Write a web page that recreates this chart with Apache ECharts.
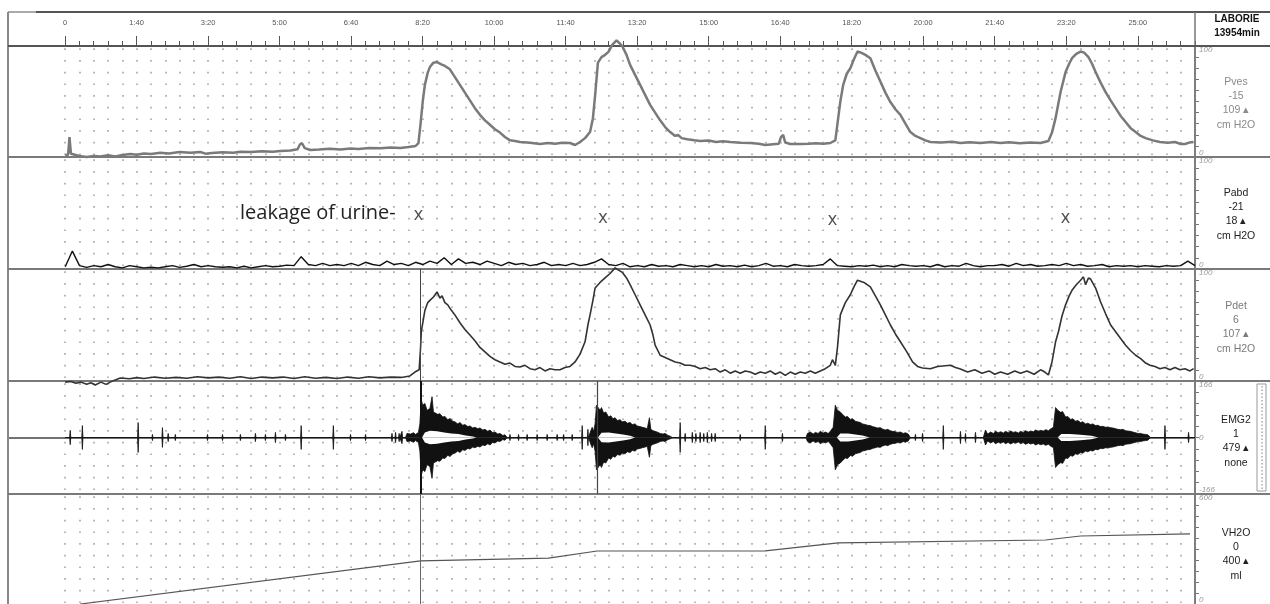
<!DOCTYPE html>
<html><head><meta charset="utf-8">
<script src="https://cdn.jsdelivr.net/npm/echarts@6/dist/echarts.min.js"></script>
<style>html,body{margin:0;padding:0;background:#fff}#c{width:1270px;height:604px}</style>
</head><body><div id="c"></div>
<script>
// ---------- DATA ----------
const timeMax = 1580;            // seconds
const majorTickStep = 100;       // seconds (label every 1:40)
const minorTickStep = 20;

const channelNames = ['Pves', 'Pabd', 'Pdet', 'EMG2', 'VH2O'];
const channelValue1 = ['-15', '-21', '6', '1', '0'];
const channelValue2 = ['109', '18', '107', '479', '400'];
const channelUnits = ['cm H2O', 'cm H2O', 'cm H2O', 'none', 'ml'];
const channelMin = [0, 0, 0, -166, 0];
const channelMax = [100, 100, 100, 166, 600];

// Pves [time s, cm H2O]
const pves = [[0,1.8],[4,2],[6,18],[8,3],[10,1.5],[20,1],[30,0],[40,1],[49,0.5],[60,1.5],[70,0.5],[80,1.8],[91,2.7],[100,2],[110,3.2],[120,2.8],[133,3.8],[145,3.2],[160,4.5],[175,3.8],[189,4.5],[196,3],[205,3.5],[220,4.2],[235,3.8],[245,4.8],[260,4.5],[275,5.2],[290,4.8],[301,5.5],[315,5.8],[325,7],[328,11],[331,12.6],[335,8],[343,6.3],[355,6.8],[370,7.5],[385,6.8],[399,7.6],[410,7.2],[425,8.2],[441,7.8],[455,8.5],[469,8.1],[480,9],[490,9.9],[494,12.6],[497,30],[500,50],[503,65],[507,76],[510,81],[515,85],[520,85.5],[526,83.5],[531,82],[538,79],[545,72],[552,65],[559,58],[566,51],[573,44],[580,38],[587,33],[594,29],[601,25],[608,22],[615,18],[622,15],[629,14.5],[636,13.5],[650,12.8],[664,11.7],[675,12.6],[685,12],[695,12.8],[706,12.6],[713,10.8],[720,13.5],[727,17],[734,22.5],[738,35],[741,55],[745,85],[750,90],[755,92],[760,95],[765,101],[771,105],[776,102],[779,100],[785,92],[790,83],[797,74],[804,65],[811,56],[818,47],[825,40],[832,33],[839,27],[846,22.5],[853,19],[857,20],[862,17],[870,16],[880,15],[888,14.4],[900,14.8],[910,13.5],[920,14.2],[930,13.5],[945,12.8],[958,12.6],[970,12],[979,10.8],[990,11.5],[998,12],[1001,18],[1004,20],[1007,13],[1014,11.7],[1028,11.7],[1040,12],[1050,12.3],[1060,12],[1070,12.6],[1077,15],[1081,35],[1084,50],[1088,65],[1093,75],[1098,80],[1103,88],[1108,95],[1113,94],[1119,92],[1126,89],[1133,78],[1140,68],[1147,58],[1154,49.5],[1161,43],[1168,38],[1175,30],[1182,22.5],[1189,19],[1196,17],[1203,15],[1210,13.5],[1225,13],[1240,13.8],[1252,12.6],[1265,13.2],[1280,12.6],[1295,13.5],[1308,12.6],[1320,13.2],[1335,12.4],[1350,13],[1364,12.6],[1375,14.4],[1380,22],[1385,35],[1392,58.5],[1399,76.5],[1404,84],[1408,89],[1414,93],[1420,95],[1425,94],[1431,90],[1436,84],[1441,76.5],[1448,67],[1455,58.5],[1462,51],[1469,44],[1476,37],[1483,31.5],[1490,26],[1497,22.5],[1504,19],[1511,17],[1521,15],[1531,13.5],[1542,12.8],[1552,13.5],[1560,11.7],[1566,11.7],[1572,13],[1578,13.5]];

// Pabd sampled every 10 s from 0 s
const pabdStep = 10;
const pabdValues = [2,16,3,1.5,3,2,4,2,1,3, 2,1,1.5,1,2,3,1.5,2.5,4,2, 3,2,1.5,2,1,2.5,1,2,3,2, 2.5,3.5,3,11,4,3,5,3,4,3,
 5,3,6,4,3,7,4,5,3,6, 4,7,5,10,4,9,5,6,4,7, 5,3,6,4,5,3,4,6,3,4, 3,5,3,4,6,9,4,3,5,2, 3,2,4,2.5,3,2,4,3,2,3,
 2,4,2.5,3,2,3.5,2,3,5,2.5, 3,2,4,3,2.5,3,4,9,3,2.5, 2,3,2.5,3.5,2,3,2,4,3,2.5, 3,2,4,2,3,2.5,5,3,2,3,
 3,4,2.5,5,3,4,2.5,3,4,3, 5,3,4,2.5,3,4,2,3,2.5,3, 2,3,2.5,2,3,2.5,3,7,3];

// Pdet [time s, cm H2O]
const pdet = [[0,-1],[8,-0.5],[15,-2],[22,-1],[30,-3],[36,-1.5],[42,-3.5],[50,-1],[57,-3],[63,-1],[70,1],[77,2.7],[90,2],[100,3],[110,2.2],[125,3.5],[140,2.5],[155,3.2],[170,2.5],[185,3.8],[200,2.8],[215,3.5],[230,2.5],[245,3.8],[260,2.2],[275,3.5],[290,2.8],[305,3.5],[320,2.2],[335,3.8],[350,2.5],[365,3.2],[380,2.2],[395,3.5],[410,2.5],[425,3.8],[440,2.8],[455,3.5],[470,3.2],[482,4.5],[489,8],[495,10],[497,30],[498,44],[503,63],[507,70],[510,72],[515,75],[520,79.5],[524,74],[527,76],[531,70],[535,68],[539,64],[545,59],[552,52],[559,46],[566,41],[573,36],[580,30],[587,26],[594,22],[601,19],[608,17],[615,15],[622,16],[629,13],[636,12.5],[643,14],[650,11],[657,10],[664,12],[671,9],[678,11],[685,10],[692,10],[699,12],[706,13],[713,17],[720,24],[727,35],[731,50],[734,59],[738,72],[741,83],[748,88],[755,92],[762,96],[769,101],[774,99],[779,97],[785,92],[790,86],[797,77],[804,68],[811,59],[818,50],[822,41],[825,32],[832,23],[839,21],[846,19],[853,17],[860,16],[867,14],[874,14],[881,13],[888,11],[895,12],[902,10],[909,11],[916,8],[923,10],[930,7],[937,9],[944,7],[951,9],[958,8],[965,6],[972,8],[979,7],[986,9],[993,6],[1000,8],[1007,5],[1014,8],[1021,6],[1028,8],[1035,7],[1042,9],[1049,7],[1056,9],[1063,11],[1070,14],[1073,19],[1077,14],[1080,30],[1084,59],[1091,70],[1098,77],[1103,84],[1108,90],[1117,88],[1126,84],[1133,76],[1140,68],[1147,59],[1154,50],[1161,42],[1168,35],[1177,26],[1185,17],[1192,13],[1199,11.6],[1210,11],[1220,13],[1238,14],[1245,12],[1252,10.7],[1262,8],[1272,10],[1282,7],[1292,9],[1300,6],[1308,8],[1318,6],[1328,9],[1336,7],[1345,9],[1355,6],[1364,10],[1370,8],[1375,5.4],[1380,17],[1385,35],[1389,44],[1394,58],[1399,68],[1404,76],[1408,81],[1414,86],[1420,90],[1424,93],[1427,86],[1431,92],[1434,91],[1441,83],[1448,70.5],[1455,60],[1462,50],[1469,44],[1476,38],[1483,32],[1490,27],[1497,23],[1504,20],[1511,16],[1517,14],[1524,13],[1531,11],[1538,12],[1545,10],[1552,12],[1559,10],[1566,11],[1573,9],[1578,11]];

// EMG2: isolated spikes [time s, amplitude] and burst envelopes [time s, amplitude]
const emgSpikes = [[7,21],[24,35],[102,44],[122,9],[136,29],[144,12],[154,9],[199,9],[220,9],[245,9],[266,12],[280,9],[294,15],[308,9],[330,35],[375,35],[399,9],[420,9],[457,12],[462,15],[467,12],[471,18],
 [622,9],[634,9],[646,9],[660,9],[674,9],[688,9],[697,9],[709,9],[723,35],[731,24],
 [860,44],[867,12],[877,15],[882,12],[888,15],[893,12],[898,15],[904,12],[909,12],[944,9],[979,35],[1003,12],
 [1189,9],[1199,12],[1228,35],[1252,18],[1259,12],[1273,15],[1538,35],[1571,15]];
const emgBurst1 = [[476,0],[478,12],[483,10],[487,14],[490,9],[494,15],[496,40],[498,110],[500,95],[503,100],[506,80],[510,85],[513,120],[515,75],[517,78],[521,68],[524,70],[528,60],[531,62],[535,52],[538,56],[542,48],[545,46],[549,40],[552,44],[556,36],[559,38],[563,32],[566,34],[570,28],[573,30],[577,26],[580,28],[584,22],[587,24],[591,18],[594,22],[598,14],[601,16],[605,10],[608,12],[612,6],[615,8],[618,0]];
const emgBurst2 = [[733,0],[735,20],[737,30],[739,18],[741,40],[743,95],[745,90],[748,80],[750,88],[753,72],[756,75],[760,60],[763,64],[766,55],[769,58],[772,50],[776,52],[779,46],[783,48],[786,42],[790,44],[793,38],[797,40],[800,34],[804,32],[807,30],[811,28],[814,26],[817,58],[819,24],[822,20],[825,18],[829,15],[832,12],[836,10],[839,12],[843,6],[846,4],[849,0]];
const emgBurst3 = [[1036,0],[1038,12],[1042,16],[1046,10],[1049,15],[1053,12],[1056,18],[1060,13],[1063,16],[1067,12],[1070,18],[1074,30],[1077,95],[1080,80],[1084,75],[1087,68],[1091,60],[1094,62],[1098,53],[1101,55],[1105,48],[1108,46],[1112,44],[1115,40],[1119,38],[1122,36],[1126,35],[1129,32],[1133,30],[1136,28],[1140,29],[1143,25],[1147,22],[1150,24],[1154,20],[1157,18],[1161,17],[1164,15],[1168,16],[1172,12],[1175,14],[1179,10],[1182,0]];
const emgBurst4 = [[1284,0],[1287,22],[1290,10],[1294,16],[1298,12],[1301,18],[1305,14],[1308,17],[1312,13],[1315,18],[1319,14],[1322,19],[1326,15],[1329,17],[1333,13],[1336,18],[1340,15],[1343,20],[1347,16],[1350,19],[1354,17],[1357,22],[1361,18],[1364,21],[1368,19],[1371,23],[1375,20],[1378,25],[1382,30],[1385,88],[1388,80],[1392,74],[1395,76],[1399,60],[1402,62],[1406,53],[1409,55],[1413,48],[1416,50],[1420,44],[1423,46],[1427,40],[1430,42],[1434,38],[1437,40],[1441,35],[1444,36],[1448,32],[1451,33],[1455,30],[1458,31],[1462,29],[1465,28],[1469,26],[1472,24],[1476,23],[1479,24],[1483,20],[1486,19],[1490,18],[1493,16],[1497,14],[1500,12],[1504,12],[1507,10],[1511,9],[1514,8],[1518,0]];
const emgHollows = [[499,0],[503,15],[510,20],[520,18],[530,15],[540,12],[550,10],[560,6],[570,3],[575,0],
 [745,0],[750,14],[760,15],[770,12],[780,9],[790,5],[797,0],
 [1079,0],[1084,12],[1095,12],[1105,9],[1115,6],[1125,0],
 [1388,0],[1393,10],[1405,10],[1420,8],[1435,5],[1445,0]];

// VH2O [time s, ml]
const vh2o = [[21,0],[497,235],[676,250],[744,289],[979,290],[1081,333],[1371,349],[1420,371],[1573,382]];

// events
const eventMarkers = [497, 744];
const leakageTimes = [494, 752, 1073, 1399];
const leakageLevels = [48, 45.5, 44, 46];
const leakageText = 'leakage of urine-';

// ---------- BUILD ----------
function fmtTime(v) {
  if (v < 0 || v % majorTickStep !== 0) return '';
  if (v === 0) return '0';
  const m = Math.floor(v / 60), s = v % 60;
  return m + ':' + (s < 10 ? '0' : '') + s;
}
const emgEnv = [[0,0]];
(function(){
  const pts = [];
  emgSpikes.forEach(([t,a]) => { pts.push([t-0.8,0],[t,a],[t+0.8,0]); });
  [emgBurst1, emgBurst2, emgBurst3, emgBurst4].forEach(b => b.forEach(p => pts.push(p)));
  pts.sort((a,b) => a[0]-b[0]);
  pts.forEach(p => emgEnv.push(p));
  emgEnv.push([timeMax,0]);
})();
const emgUpper = emgEnv.map(p => [p[0], p[1]]);
const emgLower = emgEnv.map(p => [p[0], -p[1]]);
const hollowUpper = emgHollows.map(p => [p[0], p[1]]);
const hollowLower = emgHollows.map(p => [p[0], -p[1]]);
const pabd = pabdValues.map((v,i) => [i*pabdStep, v]);

const dotColors = [];
for (let i = 0; i < 120; i++) dotColors.push(i < 4 ? 'rgba(0,0,0,0)' : '#ababab');

const panelTops = [46, 157, 269, 381, 494];
const panelHeights = [111, 112, 112, 113, 110];
const FONT = 'Liberation Sans';

const grids = [{left:65, right:75, top:12, height:34}];
panelTops.forEach((t,i) => grids.push({left:8, right:75, top:t, height:panelHeights[i]}));

const xAxes = [
  {gridIndex:0, type:'value', min:0, max:timeMax, interval:majorTickStep, position:'bottom',
   axisLine:{show:false}, splitLine:{show:false},
   axisTick:{inside:true, length:10, lineStyle:{color:'#555', width:1}},
   axisLabel:{inside:true, margin:19, fontSize:7.5, color:'#555', fontFamily:FONT, formatter:fmtTime, showMaxLabel:false}},
  {gridIndex:0, type:'value', min:0, max:timeMax, interval:minorTickStep, position:'bottom',
   axisLine:{show:false}, splitLine:{show:false}, axisLabel:{show:false},
   axisTick:{inside:true, length:5, lineStyle:{color:'#555', width:1}}}
];
panelTops.forEach((t,i) => xAxes.push({
  gridIndex:i+1, type:'value', min:-80, max:timeMax, interval:minorTickStep,
  axisLabel:{show:false}, axisTick:{show:false},
  axisLine:{show: i === 3, onZero:true, lineStyle:{color:'#444', width:1.5}},
  splitLine:{show:true, lineStyle:{color:dotColors, width:1.7, type:[1.7,9.97], dashOffset:9.3}}
}));

const yAxes = [{gridIndex:0, show:false, min:0, max:1}];
channelNames.forEach((n,i) => {
  const mn = channelMin[i], mx = channelMax[i];
  yAxes.push({
    gridIndex:i+1, type:'value', position:'right', min:mn, max:mx, interval:(mx-mn)/10,
    axisLine:{show:true, onZero:false, lineStyle:{color:'#777', width:1.5}},
    axisTick:{show:true, length:4, lineStyle:{color:'#777'}},
    splitLine:{show:false},
    axisLabel:{show:true, margin:4, fontSize:8, fontStyle:'italic', color:'#999', fontFamily:FONT,
      verticalAlignMaxLabel:'top', verticalAlignMinLabel:'bottom',
      formatter: v => (Math.abs(v-mx)<1e-6 ? String(mx) : Math.abs(v-mn)<1e-6 ? String(mn) : (Math.abs(v)<1e-6 && mn<0) ? '0' : '')}
  });
});

const mk = (color, width) => ({silent:true, symbol:['none','none'], label:{show:false},
  lineStyle:{color:color, width:width, type:'solid'}, data: eventMarkers.map(t => ({xAxis:t}))});

const series = [
  {type:'line', name:'Pves', xAxisIndex:2, yAxisIndex:1, data:pves, showSymbol:false, clip:false,
   lineStyle:{color:'#7a7a7a', width:2.5}, z:3},
  {type:'line', name:'Pabd', xAxisIndex:3, yAxisIndex:2, data:pabd, showSymbol:false,
   lineStyle:{color:'#111', width:1.4}, z:3},
  {type:'scatter', name:'leakage', xAxisIndex:3, yAxisIndex:2, symbolSize:1, itemStyle:{color:'rgba(0,0,0,0)'},
   data: leakageTimes.map((t,i) => [t, leakageLevels[i]]),
   label:{show:true, position:'inside', formatter:'x', fontSize:18, color:'#222', fontFamily:'Open Sans'}, z:5},
  {type:'line', name:'Pdet', xAxisIndex:4, yAxisIndex:3, data:pdet, showSymbol:false, clip:false,
   lineStyle:{color:'#333', width:1.6}, z:3,
   markLine: Object.assign(mk('#444',1), {data:[{xAxis:eventMarkers[0]}]})},
  {type:'line', name:'EMG+', xAxisIndex:5, yAxisIndex:4, data:emgUpper, showSymbol:false,
   lineStyle:{color:'#111', width:0.8}, areaStyle:{color:'#111', opacity:1}, z:3,
   markLine: {silent:true, symbol:['none','none'], label:{show:false},
     data:[{xAxis:eventMarkers[0], lineStyle:{color:'#111', width:2, type:'solid'}},
           {xAxis:eventMarkers[1], lineStyle:{color:'#444', width:1.2, type:'solid'}}]}},
  {type:'line', name:'EMG-', xAxisIndex:5, yAxisIndex:4, data:emgLower, showSymbol:false,
   lineStyle:{color:'#111', width:0.8}, areaStyle:{color:'#111', opacity:1}, z:3},
  {type:'line', name:'EMGh+', xAxisIndex:5, yAxisIndex:4, data:hollowUpper, showSymbol:false,
   lineStyle:{width:0}, areaStyle:{color:'#fff', opacity:1}, z:4},
  {type:'line', name:'EMGh-', xAxisIndex:5, yAxisIndex:4, data:hollowLower, showSymbol:false,
   lineStyle:{width:0}, areaStyle:{color:'#fff', opacity:1}, z:4},
  {type:'line', name:'VH2O', xAxisIndex:6, yAxisIndex:5, data:vh2o, showSymbol:false,
   lineStyle:{color:'#555', width:1.2}, z:3,
   markLine: Object.assign(mk('#666',1), {data:[{xAxis:eventMarkers[0]}]})}
];

// decorations (frame + right column text)
const graphic = [];
const line = (x1,y1,x2,y2,c,w) => graphic.push({type:'line', silent:true, z:1, shape:{x1,y1,x2,y2}, style:{stroke:c, lineWidth:w}});
line(8,12,36,12,'#aaa',2);
line(36,12,1270,12,'#555',2);
line(8,12,8,604,'#888',2);
line(1195,12,1195,604,'#777',1.5);
panelTops.forEach((y,i) => line(8,y,1270,y,i===0?'#555':'#7a7a7a',2));
graphic.push({type:'rect', silent:true, z:1, shape:{x:1257,y:384,width:9,height:107}, style:{fill:'none', stroke:'#999', lineWidth:1}});
graphic.push({type:'line', silent:true, z:1, shape:{x1:1262,y1:386,x2:1262,y2:489}, style:{stroke:'#aaa', lineWidth:1.5, lineDash:[1.5,2]}});
graphic.push({type:'text', silent:true, z:5, style:{text:'LABORIE', x:1237, y:19, align:'center', verticalAlign:'middle', font:'bold 10px "Liberation Sans"', fill:'#111'}});
graphic.push({type:'text', silent:true, z:5, style:{text:'13954min', x:1237, y:33, align:'center', verticalAlign:'middle', font:'bold 10px "Liberation Sans"', fill:'#111'}});
const textColors = ['#8a8a8a', '#222', '#7a7a7a', '#222', '#222'];
const labelOffsets = [36, 36, 37, 39, 39];
channelNames.forEach((n,i) => {
  const base = panelTops[i] + labelOffsets[i];
  const lines = [n, channelValue1[i], channelValue2[i] + ' \u25B4', channelUnits[i]];
  lines.forEach((s,k) => graphic.push({type:'text', silent:true, z:5,
    style:{text:s, x:1236, y:base + k*14.3, align:'center', verticalAlign:'middle',
      font:'10.5px "Liberation Sans"', fill:textColors[i]}}));
});
graphic.push({type:'text', silent:true, z:5, style:{text:leakageText, x:240, y:213, align:'left', verticalAlign:'middle',
  font:'20px "Open Sans"', fill:'#222'}});

const chart = echarts.init(document.getElementById('c'), null, {renderer:'canvas'});
chart.setOption({animation:false, backgroundColor:'#fff', grid:grids, xAxis:xAxes, yAxis:yAxes, series:series, graphic:graphic});
</script></body></html>
